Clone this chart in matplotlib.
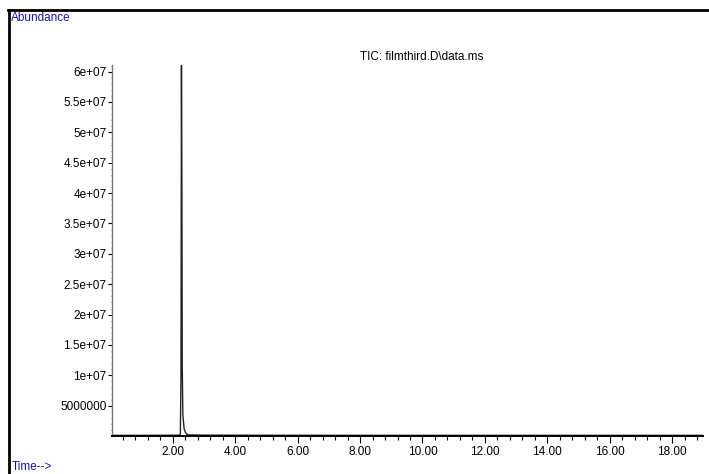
#!/usr/bin/env python3
# tic_plot.py - total ion chromatogram, ChemStation style
import numpy as np
import matplotlib.pyplot as plt
from matplotlib.lines import Line2D
from matplotlib.ticker import MultipleLocator

# ----------------------------- Data -----------------------------
time_min = [0.05, 1.00, 2.20, 2.24, 2.26, 2.275, 2.29, 2.30, 2.32, 2.36, 2.42, 2.50, 3.00, 6.00, 10.0, 14.0, 19.0]
abundance = [1.2e5, 1.2e5, 1.5e5, 3e5, 1.0e7, 6.1e7, 4.0e7, 1.2e7, 3.5e6, 1.2e6, 4e5, 2e5, 1.5e5, 1.3e5, 1.2e5, 1.2e5, 1.2e5]

ytick_vals = [5e6, 1e7, 1.5e7, 2e7, 2.5e7, 3e7, 3.5e7, 4e7, 4.5e7, 5e7, 5.5e7, 6e7]
ytick_labels = ["5000000", "1e+07", "1.5e+07", "2e+07", "2.5e+07", "3e+07",
                "3.5e+07", "4e+07", "4.5e+07", "5e+07", "5.5e+07", "6e+07"]
xtick_vals = [2, 4, 6, 8, 10, 12, 14, 16, 18]
xtick_labels = ["2.00", "4.00", "6.00", "8.00", "10.00", "12.00", "14.00", "16.00", "18.00"]

title = "TIC: filmthird.D\\data.ms"

# ----------------------------- Plot -----------------------------
plt.rcParams["font.family"] = ["Liberation Sans", "DejaVu Sans"]
fig = plt.figure(figsize=(7.09, 4.74), dpi=100)
ax = fig.add_axes([0.158, 0.080, 0.834, 0.783])

ax.plot(time_min, abundance, color="#222222", linewidth=1.0)

ax.set_xlim(0.05, 19.0)
ax.set_ylim(0, 6.11e7)

ax.set_yticks(ytick_vals)
ax.set_yticklabels(ytick_labels, fontsize=8.5)
ax.set_xticks(xtick_vals)
ax.set_xticklabels(xtick_labels, fontsize=8.5)
ax.xaxis.set_minor_locator(MultipleLocator(0.4))
ax.yaxis.set_minor_locator(MultipleLocator(1e6))

ax.tick_params(axis="x", which="major", direction="out", length=5, width=0.8, pad=2)
ax.tick_params(axis="x", which="minor", direction="out", length=3, width=0.8)
ax.tick_params(axis="y", which="major", direction="out", length=3, width=0.8, pad=1)
ax.tick_params(axis="y", which="minor", direction="out", length=1, width=0.6, color="#777777")

for side in ("top", "right"):
    ax.spines[side].set_visible(False)
ax.spines["left"].set_color("#777777")
ax.spines["left"].set_linewidth(1.0)
ax.spines["bottom"].set_linewidth(1.4)

# title sits just above the plotting area
fig.text(0.595, 0.880, title, ha="center", va="center", fontsize=8.5)

# page frame along the top and left edges
fig.add_artist(Line2D([0.011, 1.0], [0.979, 0.979], color="black", linewidth=2.0))
fig.add_artist(Line2D([0.012, 0.012], [0.0, 0.979], color="black", linewidth=2.0))

fig.text(0.016, 0.962, "Abundance", color="#1414b4", fontsize=8.5, ha="left", va="center")
fig.text(0.016, 0.015, "Time-->", color="#1414b4", fontsize=8.5, ha="left", va="center")

fig.savefig("out.png", dpi=100)
